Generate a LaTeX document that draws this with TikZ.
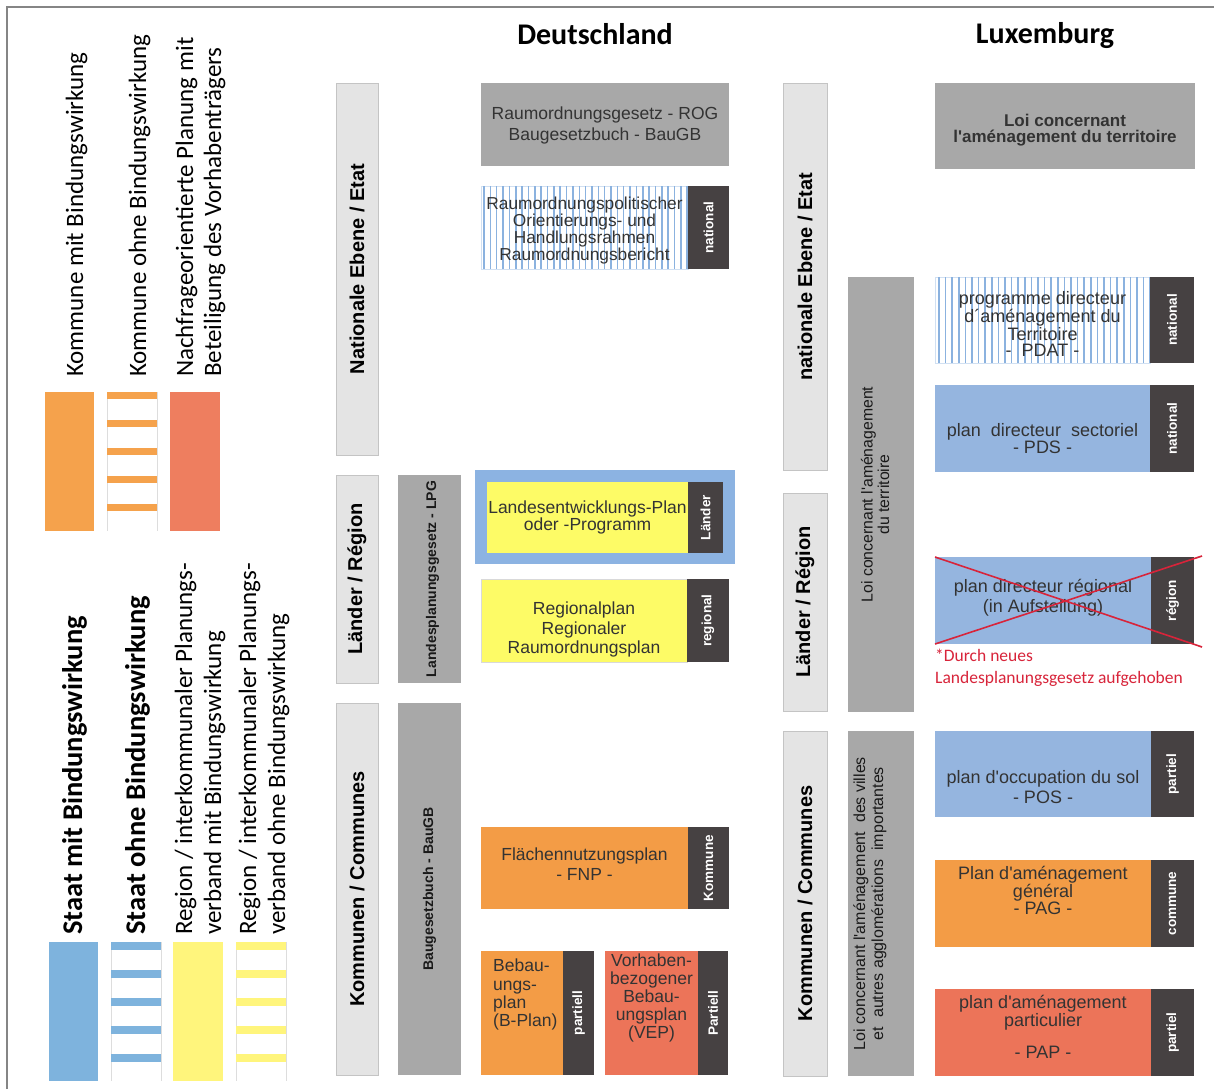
\documentclass[tikz,border=0pt]{standalone}
\usepackage{fontspec}
\setmainfont{Liberation Sans}
\newfontfamily\calfont{Carlito}
\usetikzlibrary{calc}
\newcommand\myfs[2]{\fontsize{#1}{#2}\selectfont}
\definecolor{lvlfill}{HTML}{E4E4E4}
\definecolor{lvlline}{HTML}{C4C4C4}
\definecolor{lawfill}{HTML}{A8A8A8}
\definecolor{darklab}{HTML}{464142}
\definecolor{orangeL}{HTML}{F5A24C}
\definecolor{orangeB}{HTML}{F39C46}
\definecolor{salmonL}{HTML}{EE7E5F}
\definecolor{salmonB}{HTML}{EC7459}
\definecolor{blueL}{HTML}{7EB3DD}
\definecolor{blueB}{HTML}{95B5DF}
\definecolor{blueO}{HTML}{8CB3E2}
\definecolor{yellowL}{HTML}{FFF57C}
\definecolor{yellowB}{HTML}{FDFB66}
\definecolor{stripeB}{HTML}{8BB2DF}
\definecolor{redc}{HTML}{D8243A}
\definecolor{frameg}{HTML}{858585}
\definecolor{txt}{HTML}{333333}
\definecolor{lgline}{HTML}{DDDDDD}
\begin{document}
\begin{tikzpicture}[x=1pt,y=-1pt,
 rect/.style={rectangle, inner sep=0pt, outer sep=0pt, anchor=north west},
 lvl/.style={rect, fill=lvlfill, draw=lvlline, line width=0.8pt},
 law/.style={rect, fill=lawfill},
 dark/.style={rect, fill=darklab},
 ptxt/.style={inner sep=0pt, align=center, text=txt, font=\myfs{17.5}{19}},
 darktxt/.style={rotate=90, inner sep=0pt, text=white, font=\bfseries\myfs{13.5}{15}},
 lvltxt/.style={rotate=90, inner sep=0pt, font=\bfseries\myfs{20}{22}},
 lawtxt/.style={rotate=90, inner sep=0pt, align=center, text=black!90},
 legtxt/.style={rotate=90, inner sep=0pt, anchor=base west, font=\calfont\myfs{25}{30}},
 legbold/.style={legtxt, font=\calfont\bfseries\myfs{28.5}{30}},
 stripe/.style={stripeB, line width=1.5pt},
]
\useasboundingbox (0,0) rectangle (1214,1089);
\fill[white] (0,0) rectangle (1214,1089);

% frame
\coordinate (fA) at (7,1089); \coordinate (fB) at (7,7); \coordinate (fC) at (1214,7);
\draw[frameg, line width=2pt] (fA) -- (fB) -- (fC);

% titles
\node[anchor=base, inner sep=0pt, font=\calfont\bfseries\myfs{30}{34}] (tDE) at (595,45) {Deutschland};
\node[anchor=base, inner sep=0pt, font=\calfont\bfseries\myfs{30}{34}] (tLU) at (1045,44) {Luxemburg};

% ---------------- legend top
\node[rect, fill=orangeL, minimum width=49pt, minimum height=139pt] (lgKm) at (45,392) {};
\node[rect, minimum width=50pt, minimum height=139pt] (lgKo) at (107,392) {};
\draw[lgline, line width=0.6pt] (lgKo.north west) -- (lgKo.south west);
\draw[lgline, line width=0.6pt] (lgKo.north east) -- (lgKo.south east);
\foreach \yy in {392,420,448,476,504} \fill[orangeL] (107,\yy) rectangle (157,\yy+7);
\node[rect, fill=salmonL, minimum width=50pt, minimum height=139pt] (lgNa) at (170,392) {};

\node[legtxt] (ltKm) at (83,377) {Kommune mit Bindungswirkung};
\node[legtxt] (ltKo) at (146,377) {Kommune ohne Bindungswirkung};
\node[legtxt] (ltNa1) at (193,377) {Nachfrageorientierte Planung mit};
\node[legtxt] (ltNa2) at (221,377) {Beteiligung des Vorhabenträgers};

% ---------------- legend bottom
\node[rect, fill=blueL, minimum width=49pt, minimum height=139pt] (lgSm) at (49,942) {};
\node[rect, minimum width=50pt, minimum height=139pt] (lgSo) at (111,942) {};
\draw[lgline, line width=0.6pt] (lgSo.north west) -- (lgSo.south west);
\draw[lgline, line width=0.6pt] (lgSo.north east) -- (lgSo.south east);
\foreach \yy in {942,970,998,1026,1054} \fill[blueL] (111,\yy) rectangle (161,\yy+8);
\node[rect, fill=yellowL, minimum width=50pt, minimum height=139pt] (lgRm) at (173,942) {};
\node[rect, minimum width=50pt, minimum height=139pt] (lgRo) at (236,942) {};
\draw[lgline, line width=0.6pt] (lgRo.north west) -- (lgRo.south west);
\draw[lgline, line width=0.6pt] (lgRo.north east) -- (lgRo.south east);
\foreach \yy in {942,970,998,1026,1054} \fill[yellowL] (236,\yy) rectangle (286,\yy+8);

\node[legbold] (ltSm) at (82,935) {Staat mit Bindungswirkung};
\node[legbold] (ltSo) at (145,935) {Staat ohne Bindungswirkung};
\node[legtxt] (ltR1a) at (192,935) {Region / interkommunaler Planungs-};
\node[legtxt] (ltR1b) at (221,935) {verband mit Bindungswirkung};
\node[legtxt] (ltR2a) at (256,935) {Region / interkommunaler Planungs-};
\node[legtxt] (ltR2b) at (285,935) {verband ohne Bindungswirkung};

% ---------------- Deutschland
\node[lvl, minimum width=42pt, minimum height=372pt] (dNat) at (336,83) {};
\node[lvltxt] at (dNat.center) {Nationale Ebene / Etat};
\node[lvl, minimum width=42pt, minimum height=208pt] (dLae) at (336,475) {};
\node[lvltxt] at (dLae.center) {Länder / Région};
\node[lvl, minimum width=42pt, minimum height=372pt] (dKom) at (336,703) {};
\node[lvltxt] at (dKom.center) {Kommunen / Communes};

\node[law, minimum width=63pt, minimum height=208pt] (dLPG) at (398,475) {};
\node[lawtxt, font=\bfseries\myfs{14}{17}] at ([xshift=3pt]dLPG.center) {Landesplanungsgesetz - LPG};
\node[law, minimum width=63pt, minimum height=372pt] (dBau) at (398,703) {};
\node[lawtxt, font=\bfseries\myfs{14}{17}] at ([xshift=0pt]dBau.center) {Baugesetzbuch - BauGB};

\node[law, minimum width=248pt, minimum height=83pt] (dROG) at (481,83) {};
\node[ptxt, font=\myfs{17.5}{21}] at ([yshift=-1pt]dROG.center) {Raumordnungsgesetz - ROG\\Baugesetzbuch - BauGB};

\node[rect, draw=stripeB!40, line width=0.6pt, minimum width=207pt, minimum height=83pt] (dRPO) at (481,186) {};
\begin{scope}
\clip (481,186) rectangle (688,269);
\foreach \i in {0,...,32} \draw[stripe] (484+\i*6.35,186) -- (484+\i*6.35,269);
\end{scope}
\node[ptxt, font=\myfs{17.3}{16}] at ([yshift=-3pt]dRPO.center) {Raumordnungspolitischer\\Orientierungs- und\\Handlungsrahmen\\Raumordnungsbericht};
\node[dark, minimum width=41pt, minimum height=83pt] (dRPOl) at (688,186) {};
\node[darktxt] at (dRPOl.center) {national};

\node[rect, fill=blueO, minimum width=260pt, minimum height=94pt] (dLEPo) at (475,470) {};
\node[rect, fill=yellowB, minimum width=201pt, minimum height=71pt] (dLEP) at (487,482) {};
\node[ptxt, font=\myfs{17.5}{17}] at (dLEP.center) {Landesentwicklungs-Plan\\oder -Programm};
\node[dark, minimum width=35pt, minimum height=71pt] (dLEPl) at (688,482) {};
\node[darktxt] at (dLEPl.center) {Länder};

\node[rect, fill=yellowB, draw=black!15, line width=0.4pt, minimum width=206pt, minimum height=83pt] (dReg) at (481,579) {};
\node[ptxt, font=\myfs{17.5}{19.5}] at ([yshift=-9pt]dReg.center) {Regionalplan\\Regionaler\\Raumordnungsplan};
\node[dark, minimum width=42pt, minimum height=83pt] (dRegl) at (687,579) {};
\node[darktxt] at (dRegl.center) {regional};

\node[rect, fill=orangeB, minimum width=207pt, minimum height=82pt] (dFNP) at (481,827) {};
\node[ptxt, font=\myfs{17.5}{19.5}] at ([yshift=4pt]dFNP.center) {Flächennutzungsplan\\- FNP -};
\node[dark, minimum width=41pt, minimum height=82pt] (dFNPl) at (688,827) {};
\node[darktxt] at (dFNPl.center) {Kommune};

\node[rect, fill=orangeB, minimum width=82pt, minimum height=124pt] (dBP) at (481,951) {};
\node[ptxt, align=left, anchor=north west, font=\myfs{17.5}{18.3}] at ([xshift=12pt,yshift=-8pt]dBP.north west) {Bebau-\\ungs-\\plan\\(B-Plan)};
\node[dark, minimum width=31pt, minimum height=124pt] (dBPl) at (563,951) {};
\node[darktxt] at (dBPl.center) {partiell};

\node[rect, fill=salmonB, minimum width=93pt, minimum height=124pt] (dVEP) at (605,951) {};
\node[ptxt, anchor=north, font=\myfs{17.5}{18}] at ([yshift=-3pt]dVEP.north) {Vorhaben-\\bezogener\\Bebau-\\ungsplan\\(VEP)};
\node[dark, minimum width=30pt, minimum height=124pt] (dVEPl) at (698,951) {};
\node[darktxt] at (dVEPl.center) {Partiell};

% ---------------- Luxembourg
\node[lvl, minimum width=44pt, minimum height=387pt] (lNat) at (783,83) {};
\node[lvltxt] at (lNat.center) {nationale Ebene / Etat};
\node[lvl, minimum width=44pt, minimum height=218pt] (lLae) at (783,493) {};
\node[lvltxt] at (lLae.center) {Länder / Région};
\node[lvl, minimum width=44pt, minimum height=345pt] (lKom) at (783,731) {};
\node[lvltxt] at (lKom.center) {Kommunen / Communes};

\node[law, minimum width=66pt, minimum height=435pt] (lLoiA) at (848,277) {};
\node[lawtxt, font=\myfs{15.8}{16.5}] at ([xshift=-6pt]lLoiA.center) {Loi concernant l\textquotesingle aménagement\\du territoire};
\node[law, minimum width=66pt, minimum height=345pt] (lLoiB) at (848,731) {};
\node[lawtxt, font=\myfs{16}{18}] at ([xshift=-11pt]lLoiB.center) {Loi concernant l\textquotesingle aménagement\ \ des villes\\et\ \ autres agglomérations\ \ importantes};

\node[law, minimum width=260pt, minimum height=86pt] (lLoi) at (935,83) {};
\node[ptxt, font=\bfseries\myfs{17}{16}] at ([yshift=-4pt]lLoi.center) {Loi concernant\\l\textquotesingle aménagement du territoire};

\node[rect, draw=stripeB!40, line width=0.6pt, minimum width=215pt, minimum height=86pt] (lPDAT) at (935,277) {};
\begin{scope}
\clip (935,277) rectangle (1150,363);
\foreach \i in {0,...,33} \draw[stripe] (939+\i*6.6,277) -- (939+\i*6.6,363);
\end{scope}
\node[ptxt, font=\myfs{18}{16}] at ([yshift=-4pt]lPDAT.center) {programme directeur\\d´aménagement du\\Territoire\\- \ PDAT -};
\node[dark, minimum width=44pt, minimum height=86pt] (lPDATl) at (1150,277) {};
\node[darktxt] at (lPDATl.center) {national};

\node[rect, fill=blueB, minimum width=215pt, minimum height=87pt] (lPDS) at (935,385) {};
\node[ptxt, font=\myfs{18}{17}] at ([yshift=-10pt]lPDS.center) {plan\ \ directeur\ \ sectoriel\\- PDS -};
\node[dark, minimum width=44pt, minimum height=87pt] (lPDSl) at (1150,385) {};
\node[darktxt] at (lPDSl.center) {national};

\node[rect, fill=blueB, minimum width=216pt, minimum height=87pt] (lPDR) at (935,557) {};
\node[ptxt, font=\myfs{18}{20}] at ([yshift=3pt]lPDR.center) {plan directeur régional\\(in Aufstellung)};
\node[dark, minimum width=43pt, minimum height=87pt] (lPDRl) at (1151,557) {};
\node[darktxt] at (lPDRl.center) {région};
\coordinate (crA) at (1202,647);
\coordinate (crB) at (1202,556);
\draw[redc, line width=1.6pt] (lPDR.north west) -- (crA);
\draw[redc, line width=1.6pt] (lPDR.south west) -- (crB);
\node[anchor=base west, inner sep=0pt, align=left, text=redc, font=\calfont\myfs{17.5}{22}] (note) at (935,683) {*Durch neues\\Landesplanungsgesetz aufgehoben};

\node[rect, fill=blueB, minimum width=216pt, minimum height=86pt] (lPOS) at (935,731) {};
\node[ptxt, font=\myfs{18}{20}] at ([yshift=-13pt]lPOS.center) {plan d\textquotesingle occupation du sol\\- POS -};
\node[dark, minimum width=43pt, minimum height=86pt] (lPOSl) at (1151,731) {};
\node[darktxt] at (lPOSl.center) {partiel};

\node[rect, fill=orangeB, minimum width=216pt, minimum height=87pt] (lPAG) at (935,860) {};
\node[ptxt, font=\myfs{18}{16.5}] at ([yshift=13pt]lPAG.center) {Plan d\textquotesingle aménagement\\général\\- PAG -};
\node[dark, minimum width=43pt, minimum height=87pt] (lPAGl) at (1151,860) {};
\node[darktxt] at (lPAGl.center) {commune};

\node[rect, fill=salmonB, minimum width=216pt, minimum height=87pt] (lPAP) at (935,989) {};
\node[ptxt, font=\myfs{18}{16}] at ([yshift=6pt]lPAP.center) {plan d\textquotesingle aménagement\\particulier\\\mbox{}\\- PAP -};
\node[dark, minimum width=43pt, minimum height=87pt] (lPAPl) at (1151,989) {};
\node[darktxt] at (lPAPl.center) {partiel};
\end{tikzpicture}
\end{document}
